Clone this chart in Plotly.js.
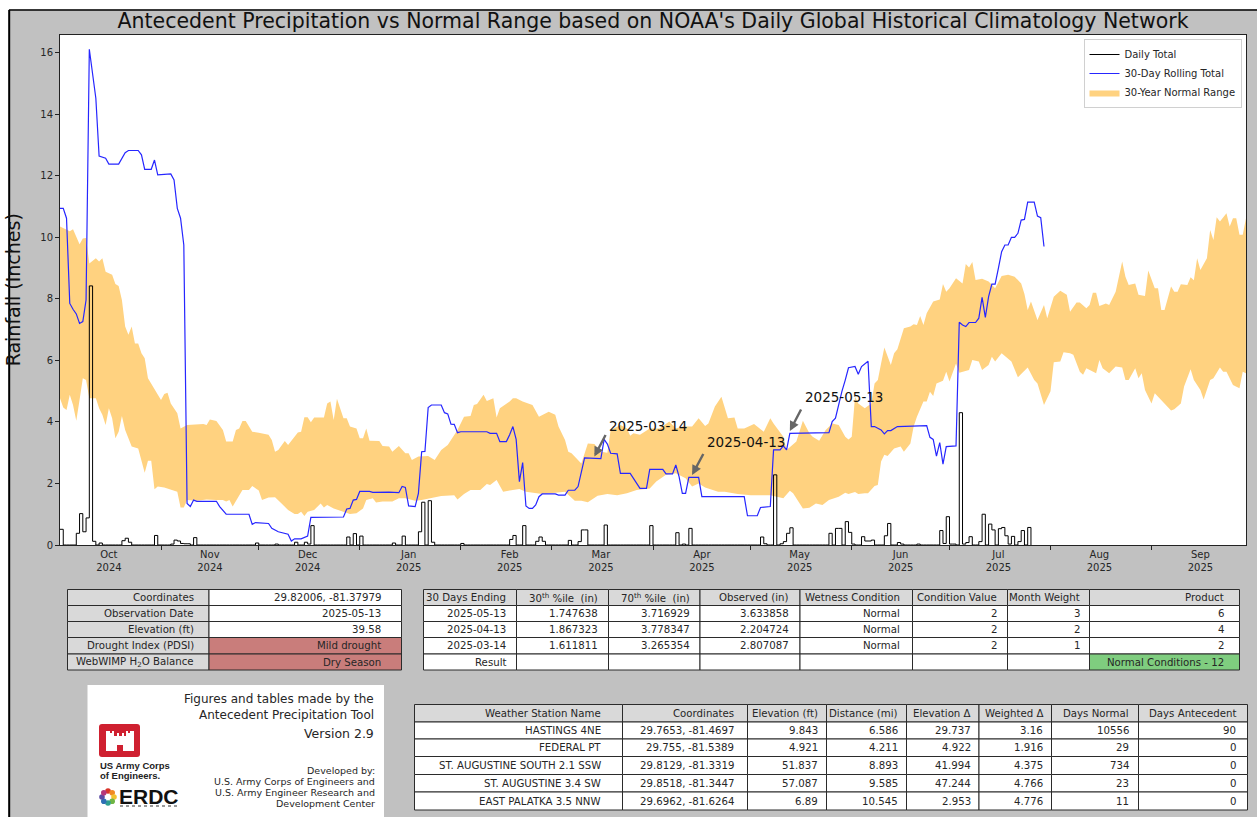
<!DOCTYPE html>
<html><head><meta charset="utf-8">
<script src="https://cdn.plot.ly/plotly-3.0.1.min.js"></script>
<style>html,body{margin:0;padding:0;background:#fff}#chart{width:1257px;height:817px}</style>
</head><body><div id="chart"></div>
<script>
// ---- values (day = days since 2024-10-01) ----
const upperDays = [0,3,4,6,7,8,9,11,12,13,14,16,17,18,19,20,21,22,23,24,25,26,27,29,31,32,33,34,36,37,39,44,45,46,48,50,51,53,54,55,56,57,59,61,64,65,66,67,69,70,73,74,75,76,77,78,81,82,83,84,85,87,88,89,91,92,93,94,95,98,99,101,102,104,106,107,108,110,113,115,117,119,122,124,126,127,128,130,131,133,134,135,138,139,140,142,145,147,150,152,153,155,156,157,160,162,164,166,168,169,171,172,174,175,176,178,181,184,187,189,191,194,196,198,199,201,203,205,207,208,210,213,216,218,219,222,223,226,228,230,231,233,235,237,239,241,242,243,244,245,247,249,250,251,252,253,255,256,257,259,261,262,263,264,265,266,268,270,271,272,273,275,277,278,279,280,281,283,285,287,289,291,293,295,296,297,298,300,302,303,305,307,309,310,312,313,315,316,317,318,319,321,322,324,326,327,328,330,331,333,334,336,337,338,339,341,342,343,344,346,347,348,349,350,352,353,354,355,356,358,359,360,361,362,363,364];
const upperInches = [10.35,10.2,10.26,9.77,9.96,9.98,9.15,9.32,9.21,9.32,8.88,8.78,8.48,8.42,7.96,7.1,6.83,7.1,6.55,6.55,6.23,6.07,5.42,5.04,4.71,4.91,4.95,4.6,4.28,3.79,3.9,3.93,3.9,4.08,4.03,3.74,3.36,3.36,3.74,3.79,4.03,4.03,3.68,3.65,3.58,3.41,3.03,3.09,3.38,3.25,3.66,3.68,4.15,4.15,3.99,4.14,4.14,4.6,4.66,4.06,4.75,4.12,4.12,3.85,3.79,3.47,3.47,3.79,3.39,3.38,3.22,3.2,3.03,3.22,2.98,2.98,2.76,2.88,2.89,2.76,3.09,3.25,3.74,4.17,4.19,4.55,4.58,4.88,4.68,4.77,4.14,4.44,4.66,4.77,4.77,4.66,4.55,4.17,4.33,4.23,3.85,3.41,3.03,2.98,2.65,3.3,3.28,3.03,3.0,3.74,3.85,3.9,3.79,3.55,3.63,3.58,3.79,3.79,4.01,3.79,3.85,3.85,4.12,3.87,3.95,4.5,4.82,4.12,4.14,3.79,3.79,3.93,3.68,4.12,3.95,3.52,3.09,3.36,4.04,3.63,3.52,3.39,3.74,3.95,3.9,3.52,3.43,3.52,4.82,4.6,4.44,4.6,5.25,5.36,5.9,6.42,5.85,6.23,6.36,7.04,7.1,7.17,7.15,7.44,7.15,7.53,7.91,7.98,8.48,8.23,8.34,8.67,8.5,9.13,9.02,9.2,8.61,8.65,8.56,8.34,8.74,8.78,8.72,8.5,8.16,7.64,7.91,7.31,7.8,7.37,8.07,8.26,8.13,7.58,7.88,7.88,7.69,7.8,8.2,8.2,7.77,7.85,7.8,8.23,9.21,8.72,8.45,8.5,8.13,8.09,8.92,8.34,8.34,7.64,7.64,8.4,8.23,8.23,8.47,8.45,8.7,8.6,9.32,8.94,9.32,10.24,9.91,10.65,10.51,10.78,10.35,10.62,10.62,10.08,10.08,10.62];
const lowerDays = [0,1,2,3,4,5,6,7,8,9,11,12,13,14,15,16,17,18,19,20,22,24,26,27,28,29,30,32,34,36,37,38,39,42,45,48,50,51,52,53,56,58,59,61,62,64,66,68,70,72,73,74,75,76,78,80,81,82,84,87,89,91,93,94,96,97,99,102,104,106,109,111,114,117,121,122,124,126,129,131,132,134,136,138,141,143,148,152,155,158,160,162,165,168,171,174,177,181,183,186,189,192,194,196,198,202,204,208,212,218,222,224,225,228,230,232,234,236,239,241,242,244,245,247,248,250,251,252,253,254,256,258,259,261,262,263,265,266,267,268,269,271,272,273,275,276,279,280,282,283,285,286,287,289,292,294,297,299,300,302,304,305,307,308,310,311,313,314,315,318,319,320,322,324,326,327,328,330,331,332,333,335,336,338,341,342,344,345,347,348,350,351,353,354,356,357,358,360,362,363,364];
const lowerInches = [4.77,4.47,4.39,4.88,4.55,4.04,4.71,5.42,5.36,4.77,4.77,4.44,4.23,3.9,4.44,4.12,3.47,3.68,4.19,3.74,3.2,3.14,2.35,2.74,2.74,1.81,1.9,1.87,1.79,1.73,1.22,1.22,1.46,1.44,1.48,1.46,1.46,1.41,1.46,1.25,1.79,1.79,1.92,1.77,1.46,1.54,1.55,1.35,1.14,1.01,1.01,1.08,0.94,1.08,1.14,1.35,1.22,1.3,1.19,1.08,1.01,1.03,1.19,1.46,1.52,1.38,1.41,1.41,1.52,1.52,1.44,1.46,1.52,1.59,1.62,1.48,1.66,1.79,1.79,1.98,1.95,2.11,1.73,1.77,1.82,1.73,1.66,1.7,1.73,1.44,1.44,1.39,1.6,1.66,1.62,1.68,1.79,1.84,2.06,2.28,2.33,2.17,1.9,2.0,1.87,1.73,1.73,1.66,1.62,1.62,1.52,1.76,1.68,1.19,1.21,1.35,1.3,1.46,1.57,1.7,1.66,1.72,1.66,1.68,1.68,1.92,1.95,2.71,2.93,2.89,3.14,3.2,3.03,3.3,3.85,4.17,4.66,4.66,4.98,4.84,5.25,5.34,5.63,5.31,5.9,5.6,5.69,6.01,5.96,5.69,5.85,6.12,5.96,6.23,5.96,5.45,5.77,5.36,5.25,4.55,5.0,5.94,5.96,6.26,6.23,6.18,5.63,5.53,5.74,5.58,6.01,5.74,5.58,5.8,5.77,5.36,5.36,5.74,5.42,5.58,5.04,4.6,4.93,4.71,4.37,4.41,4.6,5.15,5.71,5.36,5.04,4.73,5.36,5.42,5.77,5.63,5.63,5.2,5.09,5.63,5.58];
const rollingDays = [0,1,2,3,4,5,6,7,8,9,11,12,14,15,18,20,21,24,25,26,28,29,30,34,35,36,37,38,39,40,41,42,48,49,51,58,59,60,64,65,67,70,71,72,74,76,77,87,88,89,90,91,92,95,96,101,104,105,106,107,109,110,111,112,113,114,117,118,119,120,121,122,123,131,132,134,135,137,138,139,140,141,142,143,144,145,146,147,148,152,153,155,156,158,159,161,166,167,168,169,171,172,175,176,178,180,181,185,186,188,189,190,191,192,193,196,197,210,211,214,215,218,219,221,222,223,224,236,237,238,239,240,241,242,244,245,246,248,249,250,252,253,254,255,257,266,267,268,269,270,271,272,275,276,277,278,279,281,282,283,284,285,286,287,288,289,290,291,292,293,294,295,296,297,299,300,301,302];
const rollingInches = [10.94,10.94,10.62,7.85,7.66,7.51,7.2,7.26,7.96,16.11,14.52,12.64,12.57,12.38,12.38,12.75,12.82,12.82,12.68,12.21,12.21,12.51,12.03,12.06,11.86,10.94,10.62,9.75,1.35,1.25,1.46,1.42,1.42,1.25,1.0,1.0,0.67,0.73,0.7,0.54,0.43,0.35,0.13,0.2,0.2,0.29,0.9,0.91,1.17,1.19,1.46,1.48,1.74,1.74,1.71,1.72,1.7,1.9,1.87,1.27,1.25,1.68,3.03,3.04,4.47,4.55,4.55,4.3,4.26,3.93,3.92,3.65,3.68,3.68,3.63,3.63,3.36,3.36,3.58,3.85,3.43,2.06,2.68,1.27,1.19,1.19,1.3,1.57,1.66,1.66,1.62,1.62,1.78,1.78,1.9,2.83,2.81,3.43,3.28,2.98,2.96,2.33,2.33,2.17,1.84,1.84,2.46,2.46,2.31,2.31,2.6,2.22,1.68,1.68,2.2,2.2,1.57,1.57,0.95,0.95,1.22,1.25,3.09,3.09,3.22,3.09,3.63,3.65,4.01,4.12,4.6,5.0,5.36,5.76,5.8,5.55,5.8,5.97,3.85,3.85,3.74,3.61,3.72,3.72,3.85,3.88,3.5,3.43,2.89,3.33,2.63,3.2,3.22,7.24,7.15,7.1,7.23,7.23,7.37,8.05,7.4,8.07,8.48,8.48,8.99,9.53,9.75,9.75,10.0,10.0,10.13,10.56,10.58,11.14,11.14,10.69,10.64,9.7];
const dailyDays = [0,5,6,7,8,9,10,12,19,20,21,29,34,35,36,37,38,39,41,60,66,72,75,76,77,88,90,92,102,105,110,111,113,114,123,138,139,142,146,147,148,156,159,160,161,167,181,189,191,193,215,216,219,221,222,223,224,236,238,239,241,242,243,246,247,248,249,253,254,257,258,263,270,271,272,273,274,276,277,278,279,282,283,285,286,288,289,290,291,292,294,295,297];
const dailyInches = [0.51,0.38,1.02,0.43,0.88,8.42,0.12,0.065,0.14,0.22,0.09,0.31,0.03,0.16,0.13,0.05,0.04,0.04,0.24,0.065,0.03,0.09,0.09,0.03,0.63,0.26,0.37,0.29,0.065,0.29,0.43,1.39,1.44,0.09,0.05,0.18,0.31,0.63,0.12,0.26,0.12,0.15,0.11,0.49,0.49,0.65,0.63,0.4,0.03,0.54,0.26,0.04,2.28,0.04,0.11,0.38,0.56,0.38,0.54,0.54,0.76,0.41,0.03,0.27,0.13,0.13,0.16,0.3,0.7,0.08,0.03,0.03,0.47,0.05,0.92,0.03,0.03,4.3,0.03,0.08,0.27,0.11,1.0,0.68,0.49,0.53,0.57,0.3,0.03,0.28,0.11,0.47,0.57];
const monthTicks = ['2024-11-01','2024-12-01','2025-01-01','2025-02-01','2025-03-01','2025-04-01','2025-05-01','2025-06-01','2025-07-01','2025-08-01','2025-09-01'];
const monthLabelDates = ['2024-10-16','2024-11-16','2024-12-16','2025-01-16','2025-02-16','2025-03-16','2025-04-16','2025-05-16','2025-06-16','2025-07-16','2025-08-16','2025-09-16'];
const monthLabels = ['Oct<br>2024','Nov<br>2024','Dec<br>2024','Jan<br>2025','Feb<br>2025','Mar<br>2025','Apr<br>2025','May<br>2025','Jun<br>2025','Jul<br>2025','Aug<br>2025','Sep<br>2025'];

const siteRows = [['Coordinates','29.82006, -81.37979'],['Observation Date','2025-05-13'],['Elevation (ft)','39.58'],['Drought Index (PDSI)','Mild drought'],['WebWIMP H<sub>2</sub>O Balance','Dry Season']];
const wetnessRows = [
 ['30 Days Ending','30<sup>th</sup> %ile  (in)','70<sup>th</sup> %ile  (in)','Observed (in)','Wetness Condition','Condition Value','Month Weight','Product'],
 ['2025-05-13','1.747638','3.716929','3.633858','Normal','2','3','6'],
 ['2025-04-13','1.867323','3.778347','2.204724','Normal','2','2','4'],
 ['2025-03-14','1.611811','3.265354','2.807087','Normal','2','1','2'],
 ['Result','','','','','','','Normal Conditions - 12']];
const stationRows = [
 ['Weather Station Name','Coordinates','Elevation (ft)','Distance (mi)','Elevation Δ','Weighted Δ','Days Normal','Days Antecedent'],
 ['HASTINGS 4NE','29.7653, -81.4697','9.843','6.586','29.737','3.16','10556','90'],
 ['FEDERAL PT','29.755, -81.5389','4.921','4.211','4.922','1.916','29','0'],
 ['ST. AUGUSTINE SOUTH 2.1 SSW','29.8129, -81.3319','51.837','8.893','41.994','4.375','734','0'],
 ['ST. AUGUSTINE 3.4 SW','29.8518, -81.3447','57.087','9.585','47.244','4.766','23','0'],
 ['EAST PALATKA 3.5 NNW','29.6962, -81.6264','6.89','10.545','2.953','4.776','11','0']];
const normalDates = ['2025-03-14','2025-04-13','2025-05-13'];
const observedAt = [2.807087,2.204724,3.633858];

// ---- helpers / layout ----
const W=1257,H=817;
const toDate=d=>new Date(Date.UTC(2024,9,1)+d*864e5).toISOString().slice(0,10);
const X=x=>x/W, Y=y=>1-y/H;
const FONT='DejaVu Sans, sans-serif';
const TXT='#262626';
const shapes=[],annotations=[];
const rect=(x0,y0,x1,y1,fill,line,lw,extra)=>shapes.push(Object.assign({type:'rect',xref:'paper',yref:'paper',x0:X(x0),x1:X(x1),y0:Y(y1),y1:Y(y0),fillcolor:fill,line:{color:line||'rgba(0,0,0,0)',width:lw===undefined?1:lw},layer:'below'},extra||{}));
const label=(x,y,t,size,anchor,color,family)=>annotations.push({xref:'paper',yref:'paper',x:X(x),y:Y(y),text:t,showarrow:false,xanchor:anchor||'right',yanchor:'middle',font:{size:size||10,color:color||TXT,family:family||FONT},borderpad:0});

// frame
rect(0,0,W,9.5,'#ffffff');
rect(0,0,8.5,H,'#ffffff');
shapes.push({type:'line',xref:'paper',yref:'paper',x0:X(9.2),x1:X(9.2),y0:Y(817),y1:Y(10),line:{color:'#000',width:2},layer:'below'});
shapes.push({type:'line',xref:'paper',yref:'paper',x0:X(9),x1:1,y0:Y(10),y1:Y(10),line:{color:'#000',width:1.6},layer:'below'});

// tables
const LGREY='#d9d9d9',RED='#c97d7b',GREEN='#7fcd7f';
function drawTable(rows,colEdges,rowTops,fillFn){
  rows.forEach((r,ri)=>r.forEach((t,ci)=>{
    const x0=colEdges[ci],x1=colEdges[ci+1],y0=rowTops[ri],y1=rowTops[ri+1];
    rect(x0,y0,x1,y1,fillFn(ri,ci),'#2b2b2b',1);
    if(t!=='') label(x1-(x1-x0)*0.1+ (x1-x0>100?0:0),(y0+y1)/2,t,10.2);
  }));
}
drawTable(siteRows,[67.5,209,401.5],[589.5,605.5,621.5,637.5,654,670],(r,c)=>c===0?LGREY:(r>=3?RED:'#ffffff'));
drawTable(wetnessRows,[423.5,516.5,608.5,700,800,912.5,1007.5,1089.5,1239.5],[589.5,605.5,621.5,637.5,654,670],(r,c)=>r===0?LGREY:(r===4&&c===7?GREEN:'#ffffff'));
drawTable(stationRows,[414.5,622.5,747.5,826.5,906.5,979,1051.5,1138.5,1247.5],[704.5,722,739,756.5,774.5,792,810],(r,c)=>r===0?LGREY:'#ffffff');

// credit box
rect(87.5,685,384,817,'#ffffff');
label(374.5,699,'Figures and tables made by the',12);
label(374.5,715,'Antecedent Precipitation Tool',12);
label(374.5,733,'Version 2.9',12.5);
label(376,770.5,'Developed by:',9.5);
label(376,781,'U.S. Army Corps of Engineers and',9.5);
label(376,792,'U.S. Army Engineer Research and',9.5);
label(376,803,'Development Center',9.5);
const LOGO=(p)=>p.replace(/(-?[\d.]+),(-?[\d.]+)/g,(m,a,b)=>X(+a)+','+Y(+b));
const logoPath=(d,fill)=>shapes.push({type:'path',xref:'paper',yref:'paper',path:LOGO(d),fillcolor:fill,line:{width:0},layer:'above'});
logoPath('M102,724 L137,724 Q140,724 140,727 L140,754 Q140,757 137,757 L102,757 Q99,757 99,754 L99,727 Q99,724 102,724 Z','#cf2030');
logoPath('M106,731 L110,731 L110,733 L112,733 L112,731 L114,731 L114,736 L117,736 L117,733 L119,733 L119,736 L122,736 L122,733 L124,733 L124,736 L126,736 L126,731 L128,731 L128,733 L130,733 L130,731 L134,731 L134,751 L123,751 L123,745 L117,745 L117,751 L106,751 Z','#ffffff');
label(99,765.5,'<b>US Army Corps</b>',9.5,'left','#222','Liberation Sans, sans-serif');
label(99,775.5,'<b>of Engineers.</b>',9.5,'left','#222','Liberation Sans, sans-serif');
label(118,796.5,'<b>ERDC</b>',21,'left','#111','Liberation Sans, sans-serif');
const ringColors=['#d9342b','#f08a24','#f2c230','#6fb544','#2f9e8f','#2f6fb5','#5b4aa3','#b5367a'];
const ringOffsets=[[0,-6],[4.2,-4.2],[6,0],[4.2,4.2],[0,6],[-4.2,4.2],[-6,0],[-4.2,-4.2]];
ringOffsets.forEach((o,i)=>{const cx=108+o[0],cy=797+o[1];
  shapes.push({type:'circle',xref:'paper',yref:'paper',x0:X(cx-2.8),x1:X(cx+2.8),y0:Y(cy+2.8),y1:Y(cy-2.8),fillcolor:ringColors[i],line:{width:0},layer:'above'});});
shapes.push({type:'line',xref:'paper',yref:'paper',x0:X(120),x1:X(179),y0:Y(806),y1:Y(806),line:{color:'#777',width:1.5,dash:'dot'},layer:'above'});

// date call-outs
const callout=[{ax:12,ay:-23,tx:54,ty:33},{ax:12,ay:-22.5,tx:53.5,ty:35},{ax:12,ay:-23,tx:54,ty:36}];
normalDates.forEach((d,i)=>{
  const c=callout[i];
  annotations.push({x:d,y:observedAt[i]+0.07,xref:'x',yref:'y',text:'',showarrow:true,ax:c.ax,ay:c.ay,arrowcolor:'#666',arrowwidth:2.4,arrowhead:2,arrowsize:0.8,standoff:0});
  annotations.push({x:d,y:observedAt[i],xref:'x',yref:'y',text:d,showarrow:false,xshift:c.tx,yshift:c.ty,font:{size:13.5,color:'#111',family:FONT},xanchor:'center',yanchor:'middle',bgcolor:'rgba(0,0,0,0)'});
});

// traces
const stepX=[],stepY=[];
for(let d=0;d<=298;d++){const i=dailyDays.indexOf(d);stepX.push(toDate(d));stepY.push(i>=0?dailyInches[i]:0);}
const bandX=upperDays.map(toDate).concat(lowerDays.slice().reverse().map(toDate));
const bandY=upperInches.concat(lowerInches.slice().reverse());
const traces=[
 {type:'scatter',mode:'lines',name:'30-Year Normal Range',x:bandX,y:bandY,fill:'toself',fillcolor:'#ffd280',line:{width:0,color:'#ffd280'},legendrank:3,hoverinfo:'skip'},
 {type:'scatter',mode:'lines',name:'Daily Total',x:stepX,y:stepY,line:{shape:'hv',color:'#000',width:1},legendrank:1},
 {type:'scatter',mode:'lines',name:'30-Day Rolling Total',x:rollingDays.map(toDate),y:rollingInches,line:{color:'#2626ff',width:1.2},legendrank:2}
];
const layout={
 width:W,height:H,margin:{l:0,r:0,t:0,b:0},paper_bgcolor:'#c1c1c1',plot_bgcolor:'#ffffff',
 font:{family:FONT,color:TXT,size:10},showlegend:true,
 title:{text:"Antecedent Precipitation vs Normal Range based on NOAA's Daily Global Historical Climatology Network",font:{size:20.5,color:'#111',family:FONT},x:653/W,xanchor:'center',y:1-21/H,yanchor:'middle'},
 xaxis:{type:'date',domain:[X(60),X(1246)],range:['2024-10-01','2025-09-30'],tickmode:'array',tickvals:monthLabelDates,ticktext:monthLabels,ticks:'',ticklen:0,tickfont:{size:10,color:TXT},showgrid:false,zeroline:false,showline:true,linecolor:'#222',linewidth:1,mirror:true,
   minor:{tickmode:'array',tickvals:monthTicks,ticks:'outside',ticklen:4,tickcolor:'#222',tickwidth:1,showgrid:false},anchor:'y'},
 yaxis:{domain:[Y(545),Y(34.5)],range:[0,16.59],tickmode:'array',tickvals:[0,2,4,6,8,10,12,14,16],ticks:'outside',ticklen:4,tickcolor:'#222',tickfont:{size:10,color:TXT},showgrid:false,zeroline:false,showline:true,linecolor:'#222',linewidth:1,mirror:true,
   title:{text:'Rainfall (Inches)',font:{size:19,color:'#111',family:FONT},standoff:14},anchor:'x'},
 legend:{x:X(1241.5),xanchor:'right',y:Y(39),yanchor:'top',bgcolor:'#ffffff',bordercolor:'#d0d0d0',borderwidth:1,font:{size:10,color:TXT},tracegroupgap:0,itemwidth:30},
 shapes,annotations
};
Plotly.newPlot('chart',traces,layout,{displayModeBar:false,responsive:false});
</script></body></html>
